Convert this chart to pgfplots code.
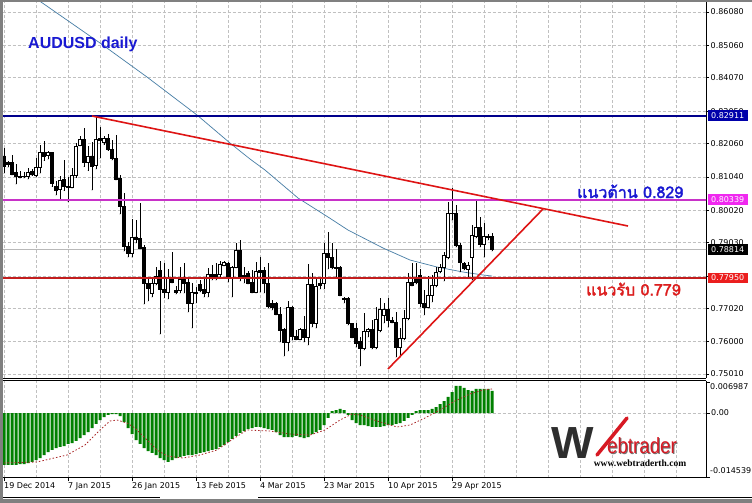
\documentclass[border=0pt]{standalone}
\usepackage{pgfplots}
\pgfplotsset{compat=1.18}
\usepackage{pgfplotstable}
\usepackage{fontspec}
\setmainfont{DejaVu Sans}
\newfontfamily\arialf{Liberation Sans}
\newfontfamily\timesf{Liberation Serif}
\newfontfamily\thaifont[Script=Thai, FakeBold=2]{Loma}

\definecolor{mtgrid}{RGB}{192,192,192}
\definecolor{mtgreen}{RGB}{0,128,0}
\definecolor{sigred}{RGB}{170,40,40}
\definecolor{maline}{RGB}{70,125,165}
\definecolor{navyline}{RGB}{0,0,140}
\definecolor{magline}{RGB}{200,50,200}
\definecolor{redh}{RGB}{195,30,30}
\definecolor{trend}{RGB}{222,20,20}
\definecolor{navybox}{RGB}{0,0,170}
\definecolor{magbox}{RGB}{240,40,240}
\definecolor{redbox}{RGB}{235,30,30}
\definecolor{frame}{RGB}{128,128,128}
\definecolor{resblue}{RGB}{25,25,210}
\definecolor{supred}{RGB}{220,30,30}
\definecolor{logored}{RGB}{215,25,35}

% daily candles, bar index 0 = 19 Dec 2014
\pgfplotstableread{
i O H L C
0 0.81677 0.81912 0.81147 0.81371
1 0.81472 0.81510 0.81331 0.81423
2 0.81472 0.81707 0.81095 0.81126
3 0.81166 0.81432 0.80820 0.81044
4 0.81056 0.81209 0.80995 0.81034
5 0.81044 0.81187 0.81004 0.81065
6 0.81044 0.81300 0.80973 0.81166
7 0.81196 0.81288 0.81074 0.81117
8 0.81095 0.81606 0.81044 0.81331
9 0.81331 0.82013 0.81147 0.81799
10 0.81799 0.82135 0.81533 0.81655
11 0.81686 0.81839 0.81576 0.81777
12 0.81777 0.81808 0.80738 0.80842
13 0.80759 0.80912 0.80484 0.80637
14 0.80658 0.81065 0.80352 0.80943
15 0.80973 0.81554 0.80615 0.80738
16 0.80759 0.81044 0.80279 0.80707
17 0.80719 0.81300 0.80689 0.81095
18 0.81074 0.82065 0.81013 0.81982
19 0.82013 0.82288 0.81982 0.82196
20 0.82187 0.82524 0.81349 0.81472
21 0.81472 0.81982 0.81227 0.81677
22 0.81677 0.82114 0.80637 0.81349
23 0.81380 0.82878 0.81279 0.82187
24 0.82227 0.82554 0.81606 0.82166
25 0.82105 0.82288 0.82022 0.82227
26 0.82218 0.82349 0.81839 0.81881
27 0.81881 0.82166 0.81554 0.81606
28 0.81606 0.82319 0.80943 0.80973
29 0.80995 0.81095 0.79903 0.80126
30 0.80126 0.80536 0.78771 0.78924
31 0.78924 0.79047 0.78588 0.78710
32 0.78710 0.79750 0.78588 0.79200
33 0.79200 0.79719 0.79016 0.79138
34 0.79169 0.80239 0.78833 0.78863
35 0.78894 0.78955 0.77150 0.77792
36 0.77792 0.77976 0.77241 0.77639
37 0.77486 0.77945 0.77364 0.77792
38 0.77792 0.78282 0.77731 0.78007
39 0.78190 0.78465 0.76233 0.77608
40 0.77608 0.78404 0.77333 0.77517
41 0.77517 0.78221 0.77303 0.77945
42 0.77945 0.78740 0.77792 0.77823
43 0.77578 0.77700 0.77456 0.77517
44 0.77578 0.78282 0.77486 0.77915
45 0.77915 0.78404 0.77486 0.77792
46 0.77823 0.77915 0.76905 0.77180
47 0.77180 0.77792 0.76416 0.77517
48 0.77517 0.77670 0.77180 0.77486
49 0.77762 0.77884 0.77517 0.77578
50 0.77608 0.77945 0.77364 0.77486
51 0.77517 0.78251 0.77364 0.78068
52 0.78068 0.78343 0.77884 0.77976
53 0.78068 0.78404 0.77884 0.77976
54 0.78068 0.78465 0.77976 0.78374
55 0.78343 0.78465 0.78312 0.78435
56 0.78404 0.78435 0.77823 0.77976
57 0.77976 0.78312 0.77364 0.78282
58 0.78282 0.79016 0.78251 0.78801
59 0.78801 0.79107 0.77854 0.77945
60 0.78037 0.78282 0.77792 0.77945
61 0.78098 0.78159 0.77762 0.77792
62 0.77823 0.78190 0.77486 0.77517
63 0.77517 0.78435 0.77486 0.78159
64 0.78190 0.78588 0.77517 0.78129
65 0.78190 0.78282 0.77486 0.77792
66 0.77792 0.78404 0.77027 0.77088
67 0.77180 0.77272 0.76966 0.77058
68 0.77180 0.77211 0.76813 0.76844
69 0.76844 0.77058 0.75988 0.76355
70 0.76385 0.76416 0.75559 0.75988
71 0.75988 0.77241 0.75712 0.77058
72 0.77058 0.77088 0.76049 0.76171
73 0.76171 0.76355 0.76049 0.76080
74 0.76080 0.76416 0.76049 0.76385
75 0.76385 0.76782 0.75988 0.76141
76 0.76141 0.78374 0.75896 0.77762
77 0.77762 0.78098 0.76447 0.76569
78 0.76569 0.77945 0.76416 0.77700
79 0.77792 0.77945 0.77608 0.77731
80 0.77792 0.79016 0.77608 0.78710
81 0.78710 0.79352 0.78221 0.78588
82 0.78588 0.79016 0.78221 0.78282
83 0.78282 0.78833 0.77976 0.78251
84 0.78282 0.78312 0.77394 0.77425
85 0.77318 0.77364 0.77180 0.77287
86 0.77333 0.77364 0.76507 0.76569
87 0.76569 0.76569 0.76110 0.76141
88 0.76416 0.76569 0.75835 0.75957
89 0.76018 0.76141 0.75253 0.75804
90 0.75804 0.76874 0.75743 0.76324
91 0.76324 0.76416 0.76141 0.76385
92 0.76385 0.76660 0.75774 0.75835
93 0.75835 0.77058 0.75774 0.76691
94 0.76355 0.77333 0.76294 0.76997
95 0.76813 0.77180 0.76569 0.76997
96 0.76997 0.77333 0.76447 0.76660
97 0.76660 0.76752 0.76569 0.76599
98 0.76599 0.76905 0.75529 0.75835
99 0.75835 0.76416 0.75529 0.76110
100 0.76110 0.76966 0.76049 0.76722
101 0.76722 0.78098 0.76660 0.77823
102 0.77823 0.78404 0.77700 0.77731
103 0.77915 0.78404 0.77762 0.77823
104 0.78037 0.78221 0.77058 0.77180
105 0.77180 0.77578 0.76813 0.77058
106 0.77058 0.78007 0.77027 0.77425
107 0.77425 0.78037 0.77211 0.77731
108 0.77731 0.78282 0.77670 0.78129
109 0.78159 0.78374 0.78098 0.78282
110 0.78282 0.78740 0.77854 0.78649
111 0.78588 0.80270 0.78527 0.79933
112 0.79933 0.80698 0.79719 0.79918
113 0.79933 0.80178 0.78894 0.78955
114 0.78955 0.79016 0.78129 0.78435
115 0.78404 0.78435 0.78190 0.78251
116 0.78221 0.78435 0.77976 0.78343
117 0.78588 0.79566 0.77884 0.79261
118 0.79230 0.80331 0.79169 0.79505
119 0.79505 0.79811 0.78894 0.78985
120 0.78985 0.79627 0.78588 0.79230
121 0.79200 0.79291 0.79107 0.79230
122 0.79230 0.79321 0.78771 0.78814
}\candles

% moving average
\pgfplotstableread{
i ma
5 0.86753
9.25 0.86386
24 0.85132
35.75 0.84092
48.25 0.82930
56.5 0.82074
61.5 0.81585
65.25 0.81248
73.5 0.80392
81 0.79811
86 0.79413
94.75 0.78863
101.5 0.78496
108.25 0.78282
114.75 0.78129
119.75 0.78038
122 0.78007
}\matable

% MACD histogram
\pgfplotstableread{
i h
0 -0.01178
1 -0.01178
2 -0.01178
3 -0.01178
4 -0.01156
5 -0.01156
6 -0.01133
7 -0.01110
8 -0.01065
9 -0.01020
10 -0.00952
11 -0.00884
12 -0.00838
13 -0.00793
14 -0.00770
15 -0.00748
16 -0.00702
17 -0.00680
18 -0.00634
19 -0.00567
20 -0.00499
21 -0.00431
22 -0.00340
23 -0.00249
24 -0.00159
25 -0.00091
26 -0.00045
27 -0.00023
28 -0.00023
29 -0.00068
30 -0.00204
31 -0.00340
32 -0.00476
33 -0.00612
34 -0.00702
35 -0.00793
36 -0.00861
37 -0.00906
38 -0.00952
39 -0.01020
40 -0.01065
41 -0.01110
42 -0.01065
43 -0.01020
44 -0.00997
45 -0.00974
46 -0.00952
47 -0.00952
48 -0.00929
49 -0.00906
50 -0.00884
51 -0.00861
52 -0.00838
53 -0.00816
54 -0.00770
55 -0.00725
56 -0.00657
57 -0.00589
58 -0.00521
59 -0.00453
60 -0.00408
61 -0.00363
62 -0.00340
63 -0.00317
64 -0.00317
65 -0.00340
66 -0.00363
67 -0.00385
68 -0.00431
69 -0.00499
70 -0.00544
71 -0.00544
72 -0.00544
73 -0.00521
74 -0.00544
75 -0.00567
76 -0.00544
77 -0.00476
78 -0.00431
79 -0.00385
80 -0.00272
81 -0.00113
82 0.00045
83 0.00068
84 0.00091
85 0.00068
86 -0.00045
87 -0.00159
88 -0.00227
89 -0.00272
90 -0.00272
91 -0.00295
92 -0.00317
93 -0.00317
94 -0.00317
95 -0.00295
96 -0.00272
97 -0.00272
98 -0.00249
99 -0.00227
100 -0.00181
101 -0.00113
102 -0.00045
103 0.00045
104 0.00068
105 0.00068
106 0.00068
107 0.00091
108 0.00136
109 0.00204
110 0.00272
111 0.00363
112 0.00476
113 0.00612
114 0.00612
115 0.00567
116 0.00521
117 0.00499
118 0.00544
119 0.00544
120 0.00544
121 0.00544
122 0.00499
}\macd

% MACD signal
\pgfplotstableread{
i s
0 -0.01133
8.25 -0.01110
15.75 -0.00952
20.25 -0.00725
24 -0.00385
26.5 -0.00181
28.25 -0.00159
30.75 -0.00227
32.75 -0.00340
38.25 -0.00838
40.75 -0.00974
44.75 -0.01020
49 -0.00952
53.25 -0.00838
56.5 -0.00634
60.75 -0.00385
66.5 -0.00408
71.5 -0.00476
76.5 -0.00499
80.25 -0.00385
84 -0.00159
87 -0.00023
89 -0.00045
93.25 -0.00181
98.25 -0.00317
101.5 -0.00272
105.25 -0.00113
109 0.00068
112.75 0.00272
116.5 0.00431
119.75 0.00521
122 0.00544
}\signal

\tikzset{tl/.style={font=\fontsize{8bp}{9bp}\selectfont}}
\pgfplotsset{
  mtaxis/.style={
    scale only axis, width=703.5bp, anchor=north west,
    xmin=-0.375, xmax=175.5, scaled ticks=false,
  },
  mtmain/.style={mtaxis, at={(2.5bp,-2bp)}, height=376bp,
    ymin=0.74888, ymax=0.86386},
}

\begin{document}
\begin{tikzpicture}
\useasboundingbox (0,0) rectangle (752bp,-503bp);
\fill[white] (0,0) rectangle (752bp,-503bp);

% main panel: grid, ticks, MA, wicks
\begin{axis}[mtmain,
  axis x line*=bottom, axis y line*=right,
  axis line style={black, line width=0.8bp},
  xtick={0,8,...,168}, xticklabels={}, x tick style={draw=none},
  xmajorgrids, ymajorgrids,
  grid style={mtgrid, dash pattern=on 3bp off 2bp, line width=0.6bp},
  ytick={0.86080,0.85060,0.84070,0.83050,0.82060,0.81040,0.80020,0.79030,0.78010,0.77020,0.76000,0.75010},
  yticklabels={0.86080,0.85060,0.84070,0.83050,0.82060,0.81040,0.80020,0.79030,,0.77020,0.76000,0.75010},
  y tick style={black, line width=0.6bp}, tick align=outside, major tick length=3bp,
  yticklabel style={tl, anchor=west, inner sep=0pt, xshift=1.5bp},
  ]
  \addplot[gray!55, line width=0.6bp] coordinates {(-1,0.78814) (176,0.78814)};
  \addplot[maline, line width=0.7bp] table[x=i, y=ma] {\matable};
  \addplot[black, only marks, mark=*, mark size=0.01pt, mark options={draw=none, fill=none},
    error bars/.cd, y dir=plus, y explicit, error mark=none,
    error bar style={black, line width=0.85bp}]
    table[x=i, y=L, y error expr=\thisrow{H}-\thisrow{L}] {\candles};
\end{axis}

% candle bodies
\begin{axis}[mtmain, hide axis, ybar stacked, bar width=2.6bp]
  \addplot[draw=none, fill=none] table[x=i, y expr={min(\thisrow{O},\thisrow{C})}] {\candles};
  \addplot[fill=white, draw=black, line width=0.8bp] table[x=i, y expr={max(\thisrow{C}-\thisrow{O},0)}] {\candles};
  \addplot[fill=black, draw=black, line width=0.8bp] table[x=i, y expr={max(\thisrow{O}-\thisrow{C},0)}] {\candles};
\end{axis}

% objects: levels and trend lines
\begin{axis}[mtmain, hide axis]
  \addplot[navyline, line width=2bp] coordinates {(-1,0.82911) (176,0.82911)};
  \addplot[magline, line width=2bp] coordinates {(-1,0.80339) (176,0.80339)};
  \addplot[redh, line width=2.5bp] coordinates {(-1,0.77950) (176,0.77950)};
  \addplot[trend, line width=1.6bp] coordinates {(22,0.82900) (156,0.79536)};
  \addplot[trend, line width=1.6bp] coordinates {(96,0.75163) (134.75,0.80056)};
  \coordinate (p1) at (axis cs:175.5,0.82911);
  \coordinate (p2) at (axis cs:175.5,0.80339);
  \coordinate (p3) at (axis cs:175.5,0.78814);
  \coordinate (p4) at (axis cs:175.5,0.77950);
\end{axis}

% MACD panel
\begin{axis}[mtaxis, at={(2.5bp,-380.5bp)}, height=97.2bp,
  ymin=-0.014661, ymax=0.007365,
  axis x line*=box, axis y line*=right,
  axis line style={black, line width=0.8bp},
  xtick={0,16,...,112},
  xticklabels={19 Dec 2014,7 Jan 2015,26 Jan 2015,13 Feb 2015,4 Mar 2015,23 Mar 2015,10 Apr 2015,29 Apr 2015},
  minor xtick={8,24,40,56,72,88,104,120,128,136,144,152,160,168},
  xtick pos=bottom,
  xmajorgrids, xminorgrids, ymajorgrids,
  grid style={mtgrid, dash pattern=on 3bp off 2bp, line width=0.6bp},
  minor grid style={mtgrid, dash pattern=on 3bp off 2bp, line width=0.6bp},
  minor tick length=0pt,
  tick style={black, line width=0.6bp}, tick align=outside, major tick length=3.5bp,
  xticklabel style={tl, anchor=north west, inner sep=0pt, xshift=0bp, yshift=-1.5bp},
  ytick={0}, yticklabels={0.00},
  yticklabel style={tl, anchor=west, inner sep=0pt, xshift=1.5bp},
  extra y ticks={0.006987,-0.014539}, extra y tick labels={},
  extra y tick style={grid=none},
  ]
  \addplot[ybar, bar width=3bp, bar shift=0pt, fill=mtgreen, draw=none] table[x=i, y=h] {\macd};
  \addplot[sigred, line width=0.8bp, dash pattern=on 1.5bp off 2bp] table[x=i, y=s] {\signal};
\end{axis}

% price labels on the scale
\node[tl, fill=navybox, text=white, anchor=west, inner sep=0pt, minimum height=10.5bp, minimum width=40bp] at ([xshift=1.5bp]p1) {0.82911};
\node[tl, fill=magbox, text=white, anchor=west, inner sep=0pt, minimum height=10.5bp, minimum width=40bp] at ([xshift=1.5bp]p2) {0.80339};
\node[tl, fill=black, text=white, anchor=west, inner sep=0pt, minimum height=10.5bp, minimum width=40bp] at ([xshift=1.5bp]p3) {0.78814};
\node[tl, fill=redbox, text=white, anchor=west, inner sep=0pt, minimum height=10.5bp, minimum width=40bp] at ([xshift=1.5bp]p4) {0.77950};
\node[tl, anchor=west, inner sep=0pt] at (710bp,-387bp) {0.006987};
\node[tl, anchor=west, inner sep=0pt] at (710bp,-471bp) {-0.014539};

% texts on the chart
\node[anchor=base west, inner sep=0pt, text=resblue] at (28bp,-48.7bp) {\arialf\bfseries\fontsize{16bp}{18bp}\selectfont AUDUSD daily};
\node[anchor=base west, inner sep=0pt, text=resblue] at (577bp,-198bp) {\thaifont\fontsize{16bp}{18bp}\selectfont แนวต้าน 0.829};
\node[anchor=base west, inner sep=0pt, text=supred] at (586bp,-295.5bp) {\thaifont\fontsize{16bp}{18bp}\selectfont แนวรับ 0.779};

% logo
\node[anchor=base west, inner sep=0pt, text=black!82] at (551bp,-458bp) {\arialf\bfseries\fontsize{45bp}{45bp}\selectfont W};
\draw[logored, line width=3.5bp, line cap=round] (597bp,-455bp) -- (627bp,-418bp);
\node[anchor=base west, inner sep=0pt, text=black!55, xscale=0.85] at (608bp,-454bp) {\arialf\fontsize{22bp}{22bp}\selectfont ebtrader};
\node[anchor=base west, inner sep=0pt, text=logored, xscale=0.85] at (607bp,-453bp) {\arialf\fontsize{22bp}{22bp}\selectfont ebtrader};
\node[anchor=center, inner sep=0pt] at (640bp,-463bp) {\timesf\bfseries\fontsize{9.5bp}{10bp}\selectfont www.webtraderth.com};

% window frame and tab strip
\draw[black, line width=0.8bp] (0,-497.5bp) -- (160bp,-497.5bp);
\draw[black, line width=0.8bp] (258bp,-497.5bp) -- (752bp,-497.5bp);
\fill[frame] (0,0) rectangle (2.5bp,-503bp);
\fill[frame] (0,0) rectangle (752bp,-2bp);
\fill[frame] (0,-499bp) rectangle (752bp,-503bp);
\end{tikzpicture}
\end{document}
